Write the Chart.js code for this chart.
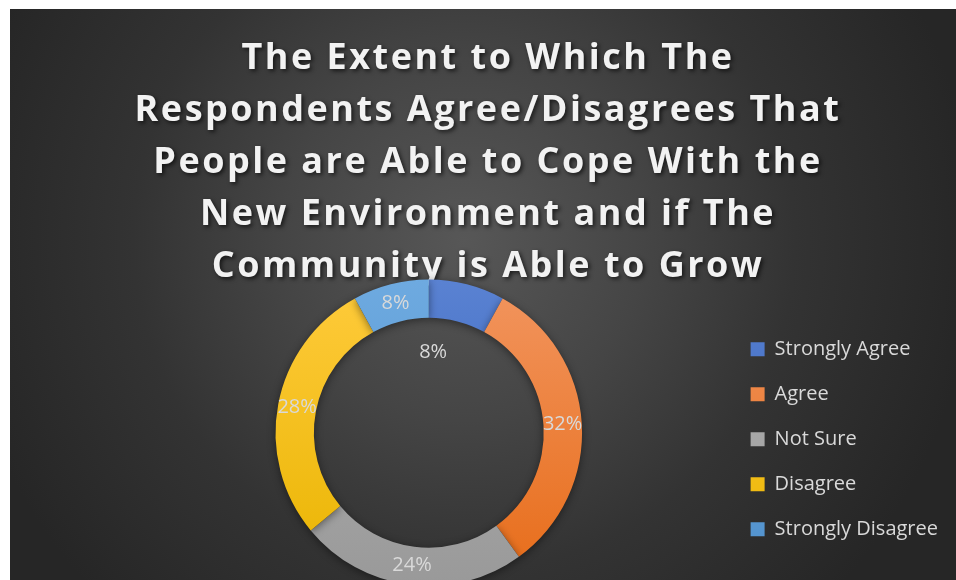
<!DOCTYPE html>
<html>
<head>
<title>Coping With the New Environment</title>
<script src="https://cdn.jsdelivr.net/npm/chart.js"></script>
<style>
  html, body { margin: 0; padding: 0; background: #fff; overflow: hidden; }
  #panel {
    position: absolute; left: 10px; top: 9px; width: 946px; height: 577px;
    background: radial-gradient(circle at 48% 40%, #575757 0%, #454545 30%, #333 55%, #262626 85%);
  }
</style>
</head>
<body>
<div id="panel"><canvas id="copeChart" width="946" height="577"></canvas></div>
<script>
const responses = ['Strongly Agree', 'Agree', 'Not Sure', 'Disagree', 'Strongly Disagree'];
const shares = [8, 32, 24, 28, 8];
const titleLines = [
  'The Extent to Which The',
  'Respondents Agree/Disagrees That',
  'People are Able to Cope With the',
  'New Environment and if The',
  'Community is Able to Grow'
];

// light/dark ends of each slice's vertical gradient
const sliceTop = ['#5a82d2', '#f2955f', '#b5b5b5', '#ffcb3c', '#6eaae0'];
const sliceBottom = ['#2c5cb6', '#e76c18', '#999999', '#e9b400', '#4f90cc'];

// the first label was dragged into the hole
const labelShift = { 0: { dx: -29, dy: 49 } };

// title sits centred over the whole panel, not over the plot+legend box
const titleCenterX = 478;

function sliceFill(ctx) {
  const chart = ctx.chart;
  const i = ctx.dataIndex;
  const area = chart.chartArea;
  if (!area || i === undefined) return sliceTop[i] || '#888';
  const cy = (area.top + area.bottom) / 2;
  const r = Math.min(area.right - area.left, area.bottom - area.top) / 2;
  const g = chart.ctx.createLinearGradient(0, cy - r, 0, cy + r);
  g.addColorStop(0, sliceTop[i]);
  g.addColorStop(1, sliceBottom[i]);
  return g;
}

// drop shadow + spaced letters for the title block
const titleShadow = {
  id: 'titleShadow',
  beforeDraw(chart) {
    const block = chart.titleBlock;
    if (!block || block._shadowed) return;
    const draw = block.draw;
    block.draw = function (area) {
      const c = chart.ctx;
      c.save();
      c.translate(titleCenterX - (this.left + this.right) / 2, 0);
      c.shadowColor = 'rgba(0,0,0,0.65)';
      c.shadowBlur = 4;
      c.shadowOffsetX = 2;
      c.shadowOffsetY = 2;
      c.letterSpacing = '2.5px';
      draw.call(this, area);
      c.restore();
    };
    block._shadowed = true;
  }
};

const ringLabels = {
  id: 'ringLabels',
  beforeDatasetsDraw(chart) {
    const c = chart.ctx;
    c.save();
    c.shadowColor = 'rgba(0,0,0,0.45)';
    c.shadowBlur = 8;
    c.shadowOffsetY = 2;
  },
  afterDatasetsDraw(chart) {
    const c = chart.ctx;
    c.restore();
    const meta = chart.getDatasetMeta(0);
    c.save();
    c.font = '20px "Open Sans"';
    c.fillStyle = '#d9d9d9';
    c.textAlign = 'center';
    c.textBaseline = 'middle';
    meta.data.forEach((arc, i) => {
      const p = arc.tooltipPosition();
      const s = labelShift[i] || { dx: 0, dy: 0 };
      c.fillText(shares[i] + '%', p.x + s.dx, p.y + s.dy);
    });
    c.restore();
  }
};

new Chart(document.getElementById('copeChart'), {
  type: 'doughnut',
  data: {
    labels: responses,
    datasets: [{
      data: shares,
      backgroundColor: sliceFill,
      borderWidth: 0,
      offset: 0,
      hoverOffset: 0
    }]
  },
  options: {
    responsive: false,
    animation: false,
    cutout: '75%',
    layout: { padding: { left: 122, right: 8, top: 0, bottom: 0 } },
    plugins: {
      title: {
        display: true,
        text: titleLines,
        color: '#f2f2f2',
        font: { family: '"Open Sans"', size: 36, weight: 'bold', lineHeight: 52 / 36 },
        padding: { top: 24, bottom: -13.5 }
      },
      legend: {
        position: 'right',
        fullSize: false,
        title: { display: true, text: '', font: { size: 1, lineHeight: 1 }, padding: { top: 12, bottom: 0 } },
        labels: {
          color: '#d9d9d9',
          font: { family: '"Open Sans"', size: 20 },
          boxWidth: 14,
          boxHeight: 14,
          padding: 25
        }
      },
      tooltip: { enabled: false }
    }
  },
  plugins: [titleShadow, ringLabels]
});
</script>
</body>
</html>
